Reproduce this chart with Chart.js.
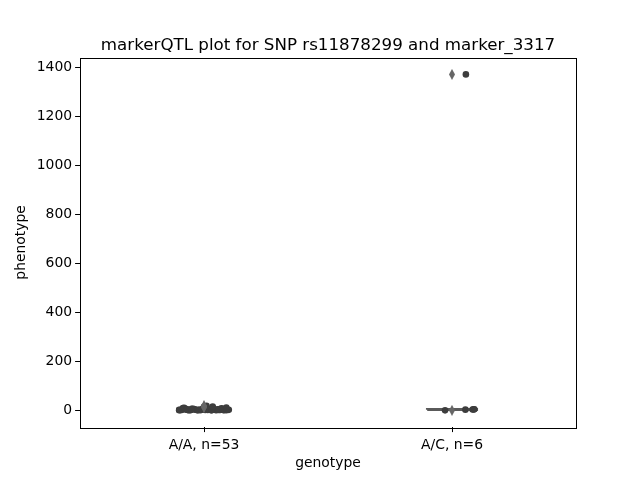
<!DOCTYPE html>
<html lang="en">
<head>
  <meta charset="UTF-8">
  <title>markerQTL plot</title>
  <script src="https://cdn.jsdelivr.net/npm/chart.js"></script>
  <style>
    body { margin: 0; background: #fff; }
  </style>
</head>
<body>
<canvas id="grafico" width="640" height="480"></canvas>
<script>
  // categorias e rotulos do eixo x
  var genotipos = ['A/A', 'A/C'];
  var rotulosX = ['A/A, n=53', 'A/C, n=6'];
  var ticksY = [0, 200, 400, 600, 800, 1000, 1200, 1400];
  var titulo = 'markerQTL plot for SNP rs11878299 and marker_3317';

  // fenotipo por genotipo
  var valoresAA = [2.1, 5.3, 0.8, 9.6, 1.4, 3.2, 0.5, 6.8, 2.7, 1.1,
    12.4, 4.1, 0.9, 3.6, 1.8, 7.4, 2.3, 0.6, 5.1, 1.5,
    14.8, 3.9, 2.2, 0.7, 8.3, 1.3, 4.6, 2.9, 0.4, 6.1,
    1.9, 3.3, 18.5, 2.6, 1.2, 5.7, 0.3, 4.4, 2.0, 10.8,
    1.6, 3.0, 7.0, 0.9, 2.4, 4.9, 1.0, 16.2, 3.7, 1.7,
    6.4, 2.5, 11.5];
  // deslocamento horizontal (jitter) de cada ponto
  var jitterAA = [-0.09, -0.07, 0.03, -0.085, 0.06, -0.02, 0.09, -0.05, 0.01, -0.1,
    0.035, 0.075, -0.06, 0.02, -0.03, -0.08, 0.1, 0.05, -0.04, 0.08,
    0.0, -0.075, 0.045, -0.015, 0.07, -0.095, 0.025, 0.085, -0.055, -0.005,
    0.065, -0.035, 0.01, 0.095, -0.065, 0.04, -0.025, 0.055, -0.1, -0.08,
    0.015, 0.09, -0.045, 0.03, -0.01, 0.06, 0.08, 0.035, -0.07, 0.005,
    0.075, -0.05, 0.09];

  var valoresAC = [0.2, 1370, 3, 3.5, 4, 4.5];
  var jitterAC = [-0.028, 0.056, 0.054, 0.083, 0.087, 0.09];

  var valores = [valoresAA, valoresAC];
  var jitters = [jitterAA, jitterAC];
  var larguraCaixa = 0.2;

  // quantil com interpolacao linear (igual numpy)
  function quantil(ordenado, q) {
    var pos = (ordenado.length - 1) * q;
    var base = Math.floor(pos);
    var resto = pos - base;
    if (base + 1 < ordenado.length) {
      return ordenado[base] + resto * (ordenado[base + 1] - ordenado[base]);
    }
    return ordenado[base];
  }

  var pontos = [];
  var outliers = [];
  var caixas = [];

  for (var g = 0; g < genotipos.length; g++) {
    var v = valores[g];
    for (var i = 0; i < v.length; i++) {
      pontos.push({ x: g + jitters[g][i], y: v[i] });
    }
    var ord = v.slice().sort(function (a, b) { return a - b; });
    var q1 = quantil(ord, 0.25);
    var med = quantil(ord, 0.5);
    var q3 = quantil(ord, 0.75);
    var iqr = q3 - q1;
    var lo = q1 - 1.5 * iqr;
    var hi = q3 + 1.5 * iqr;
    var dentro = ord.filter(function (d) { return d >= lo && d <= hi; });
    var wLo = dentro[0];
    var wHi = dentro[dentro.length - 1];
    ord.forEach(function (d) {
      if (d < lo || d > hi) outliers.push({ x: g, y: d });
    });
    var a = g - larguraCaixa / 2, b = g + larguraCaixa / 2;
    caixas.push({ x: a, y: q1 }, { x: b, y: q1 }, { x: b, y: q3 }, { x: a, y: q3 }, { x: a, y: q1 }, { x: null, y: null });
    caixas.push({ x: a, y: med }, { x: b, y: med }, { x: null, y: null });
    caixas.push({ x: g, y: q1 }, { x: g, y: wLo }, { x: null, y: null });
    caixas.push({ x: g, y: q3 }, { x: g, y: wHi }, { x: null, y: null });
  }

  // marcador losango fino (estilo 'd' do matplotlib)
  function criarLosango(w, h, cor) {
    var c = document.createElement('canvas');
    c.width = w; c.height = h;
    var ctx = c.getContext('2d');
    ctx.fillStyle = cor;
    ctx.beginPath();
    ctx.moveTo(w / 2, 0);
    ctx.lineTo(w, h / 2);
    ctx.lineTo(w / 2, h);
    ctx.lineTo(0, h / 2);
    ctx.closePath();
    ctx.fill();
    return c;
  }

  var fonte = 'DejaVu Sans';

  // moldura em volta da area do grafico + titulo centrado nela
  var moldura = {
    id: 'moldura',
    afterDraw: function (chart) {
      var ca = chart.chartArea;
      var ctx = chart.ctx;
      ctx.save();
      ctx.strokeStyle = '#000';
      ctx.lineWidth = 1;
      ctx.strokeRect(Math.round(ca.left) + 0.5, Math.round(ca.top) + 0.5,
        Math.round(ca.right - ca.left), Math.round(ca.bottom - ca.top));
      ctx.fillStyle = '#000';
      ctx.font = '16.7px "' + fonte + '"';
      ctx.textAlign = 'center';
      ctx.textBaseline = 'alphabetic';
      ctx.fillText(titulo, (ca.left + ca.right) / 2, ca.top - 8);
      ctx.restore();
    }
  };

  new Chart(document.getElementById('grafico'), {
    type: 'scatter',
    data: {
      datasets: [
        {
          label: 'outliers',
          data: outliers,
          pointStyle: criarLosango(6, 11, '#666666'),
          order: 0
        },
        {
          label: 'phenotype',
          data: pontos,
          backgroundColor: '#3d3d3d',
          borderColor: '#3d3d3d',
          pointRadius: 3.3,
          borderWidth: 0,
          order: 1
        },
        {
          label: 'box',
          data: caixas,
          showLine: true,
          spanGaps: false,
          pointRadius: 0,
          borderColor: '#5a5a5a',
          backgroundColor: '#808080',
          borderWidth: 2.5,
          order: 2
        }
      ]
    },
    options: {
      responsive: false,
      animation: false,
      layout: { padding: { left: 0, right: 64, top: 57.6, bottom: 0 } },
      plugins: {
        legend: { display: false },
        tooltip: { enabled: false },
        title: { display: false }
      },
      scales: {
        x: {
          type: 'linear',
          min: -0.5,
          max: 1.5,
          afterBuildTicks: function (scale) {
            scale.ticks = genotipos.map(function (n, i) { return { value: i }; });
          },
          afterFit: function (scale) { scale.height = 52.8; },
          ticks: {
            color: '#000',
            font: { family: fonte, size: 13.9 },
            padding: 5,
            callback: function (val) { return rotulosX[val]; }
          },
          grid: { drawOnChartArea: false, tickLength: 4.9, color: '#000' },
          border: { display: false },
          title: {
            display: true,
            text: 'genotype',
            color: '#000',
            font: { family: fonte, size: 13.9 },
            padding: { top: 0, bottom: 8.7 }
          }
        },
        y: {
          min: -68.5,
          max: 1438.5,
          afterBuildTicks: function (scale) {
            scale.ticks = ticksY.map(function (t) { return { value: t }; });
          },
          afterFit: function (scale) { scale.width = 80; },
          ticks: {
            color: '#000',
            font: { family: fonte, size: 13.9 },
            padding: 3,
            callback: function (val) { return String(val); }
          },
          grid: { drawOnChartArea: false, tickLength: 4.9, color: '#000' },
          border: { display: false },
          title: {
            display: true,
            text: 'phenotype',
            color: '#000',
            font: { family: fonte, size: 13.9 },
            padding: { top: 13, bottom: 0 }
          }
        }
      }
    },
    plugins: [moldura]
  });
</script>
</body>
</html>
